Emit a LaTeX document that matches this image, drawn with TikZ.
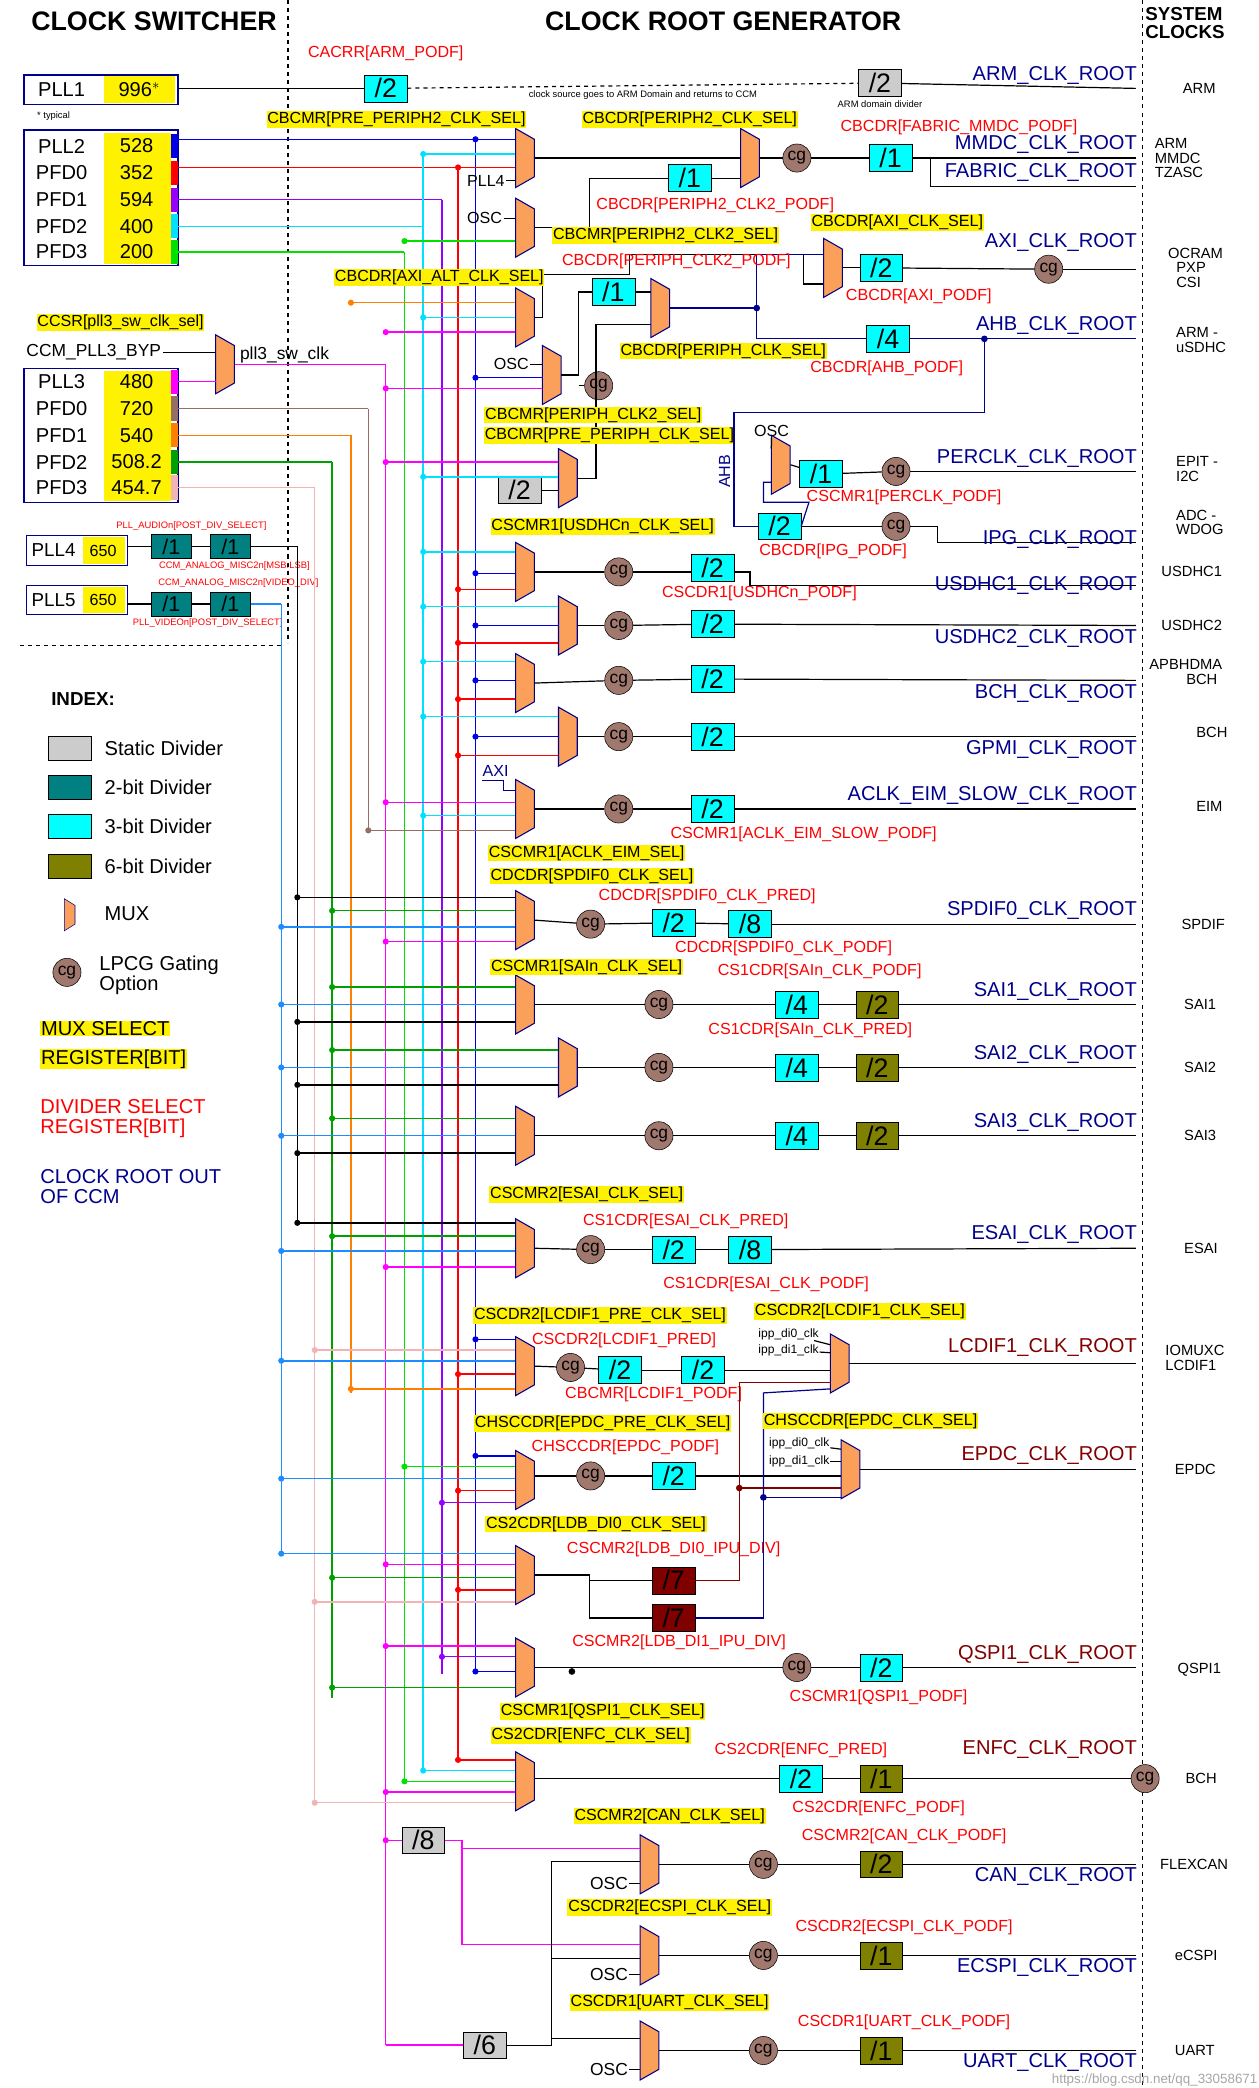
\documentclass[tikz,border=0pt]{standalone}
\usepackage{fontspec}
\setmainfont{Liberation Sans}
\definecolor{navyc}{RGB}{0,0,140}
\definecolor{muxor}{RGB}{250,160,90}
\definecolor{cgc}{RGB}{160,120,110}
\definecolor{teald}{RGB}{0,128,128}
\definecolor{olv}{RGB}{128,128,0}
\definecolor{dred}{RGB}{128,0,0}
\definecolor{cyn}{RGB}{0,255,255}
\definecolor{cA}{RGB}{0,0,230}
\definecolor{cB}{RGB}{255,0,0}
\definecolor{cC}{RGB}{150,0,255}
\definecolor{cD}{RGB}{0,225,255}
\definecolor{cE}{RGB}{0,225,0}
\definecolor{cF}{RGB}{255,0,255}
\definecolor{cG}{RGB}{150,110,100}
\definecolor{cH}{RGB}{255,128,0}
\definecolor{cI}{RGB}{0,160,0}
\definecolor{cJ}{RGB}{240,180,180}
\definecolor{cK}{RGB}{0,0,0}
\definecolor{cL}{RGB}{30,140,255}
\newcommand\fsz[1]{\fontsize{#1}{#1}\selectfont}
\newcommand\mux[3]{\node[inner sep=0,minimum width=14,minimum height=44] (#1) at (#2,#3) {};
 \filldraw[fill=muxor,draw=navyc,line width=0.8] (#2-7,#3-22) -- (#2+7,#3-14) -- (#2+7,#3+14) -- (#2-7,#3+22) -- cycle;}
\newcommand\inp[4]{\draw[#1,line width=1.1] (#2,#3) -- (#4.west |- 0,#3); \fill[#1] (#2,#3) circle (2.3);}
\newcommand\bus[4]{\draw[#1,line width=1.1] (#2,#3) -- (#2,#4);}
\tikzset{
 yl/.style={fill=yellow,inner sep=0.6,font=\fsz{12}},
 rl/.style={text=red,inner sep=0.5,font=\fsz{12}},
 rt/.style={text=navyc,inner sep=1,font=\fsz{15},anchor=south east},
 rtd/.style={text=dred,inner sep=1,font=\fsz{15},anchor=south east},
 sy/.style={font=\fsz{11},anchor=west,align=left,inner sep=0},
 dv/.style={draw,fill=cyn,minimum width=32,minimum height=20,inner sep=0,font=\fsz{20}},
 dvo/.style={dv,fill=olv},
 dvt/.style={dv,fill=teald,minimum width=30,minimum height=18,font=\fsz{16}},
 dvs/.style={dv,fill=black!20},
 dvr/.style={dv,fill=dred},
 cg/.style={circle,draw,fill=cgc,minimum size=21,inner sep=0,font=\fsz{13}},
 sm/.style={font=\fsz{12},inner sep=1},
 tiny/.style={font=\fsz{7},inner sep=0.5},
 ln/.style={line width=0.9},
}
\begin{document}
\begin{tikzpicture}[x=1pt,y=-1pt]
\useasboundingbox (0,0) rectangle (940,1559);
\fill[white] (0,0) rectangle (940,1559);
% titles
\node[font=\fsz{20}\bfseries] at (115,16) {CLOCK SWITCHER};
\node[font=\fsz{20}\bfseries] at (540,16) {CLOCK ROOT GENERATOR};
\node[font=\fsz{14}\bfseries,align=left,anchor=north west,inner sep=0] at (855,5) {SYSTEM\\CLOCKS};
\draw[dashed,line width=1] (215,0) -- (215,480);
\draw[dashed,line width=1] (853,0) -- (853,1559);
\draw[dashed,line width=1] (15,482) -- (212,482);

% ===== PLL1 =====
\draw[navyc,line width=1] (18,56) rectangle (133,78);
\fill[yellow] (78,57) rectangle (131,77);
\node[sm,font=\fsz{15}] at (46,67) {PLL1};
\node[sm,font=\fsz{15}] at (104,67) {996$^{*}$};
\node[tiny] at (40,87) {* typical};
\node[dv] (darm1) at (288,66) {/2};
\node[dvs] (darm2) at (657,62) {/2};
\coordinate (earm) at (848,66);
\draw[ln] (133,66) -- (darm1);
\draw[ln,dashed] (darm1) -- (darm2);
\draw[ln] (darm2) -- (earm);
\node[rl] at (288,40) {CACRR[ARM\_PODF]};
\node[tiny] at (480,71) {clock source goes to ARM Domain and returns to CCM};
\node[tiny] at (657,78) {ARM domain divider};
\node[rt] at (850,64) {ARM\_CLK\_ROOT};
\node[sy] at (883,66) {ARM};

% ===== PLL2 group =====
\draw[navyc,line width=1] (18,97) rectangle (133,198);
\fill[yellow] (78,99) rectangle (128,197);
\foreach \n/\v/\y/\c in {PLL2/528/109/cA,PFD0/352/129/cB,PFD1/594/149/cC,PFD2/400/169/cD,PFD3/200/188/cE}{
 \node[sm,font=\fsz{15}] at (46,\y) {\n};
 \node[sm,font=\fsz{15}] at (102,\y) {\v};
 \fill[\c] (128,\y-9) rectangle (133,\y+9);
}
% ===== PLL3 group =====
\node[yl] at (90,241) {CCSR[pll3\_sw\_clk\_sel]};
\node[sm,font=\fsz{13}] (byp) at (70,263) {CCM\_PLL3\_BYP};
\mux{msw}{168}{272}
\draw[ln] (byp) -- (msw.west |- 0,263);
\node[sm,font=\fsz{13},anchor=west] at (178,265) {pll3\_sw\_clk};
\draw[navyc,line width=1] (18,275) rectangle (133,375);
\fill[yellow] (78,277) rectangle (128,374);
\foreach \n/\v/\y/\c in {PLL3/480/285/cF,PFD0/720/305/cG,PFD1/540/325/cH,PFD2/508.2/345/cI,PFD3/454.7/364/cJ}{
 \node[sm,font=\fsz{15}] at (46,\y) {\n};
 \node[sm,font=\fsz{15}] at (102,\y) {\v};
 \fill[\c] (128,\y-9) rectangle (133,\y+9);
}
\draw[cF,line width=1.1] (133,285) -- (161,285);
% ===== PLL4/5 =====
\draw[navyc,line width=1] (20,400) rectangle (95,422);
\fill[yellow] (62,401) rectangle (93,421);
\node[sm,font=\fsz{14}] at (40,411) {PLL4};
\node[sm] at (77,411) {650};
\node[dvt] (p4a) at (128,408) {/1};
\node[dvt] (p4b) at (172,408) {/1};
\draw[ln] (95,408) -- (p4a); \draw[ln] (p4a) -- (p4b); \draw[ln] (p4b) -- (222,408);
\node[tiny,text=red] at (143,393) {PLL\_AUDIOn[POST\_DIV\_SELECT]};
\node[tiny,text=red] at (175,423) {CCM\_ANALOG\_MISC2n[MSB:LSB]};
\draw[navyc,line width=1] (20,437) rectangle (95,459);
\fill[yellow] (62,438) rectangle (93,458);
\node[sm,font=\fsz{14}] at (40,448) {PLL5};
\node[sm] at (77,448) {650};
\node[dvt] (p5a) at (128,451) {/1};
\node[dvt] (p5b) at (172,451) {/1};
\draw[ln] (95,451) -- (p5a); \draw[ln] (p5a) -- (p5b); \draw[cL,line width=1.1] (p5b) -- (210,451);
\node[tiny,text=red] at (178,435) {CCM\_ANALOG\_MISC2n[VIDEO\_DIV]};
\node[tiny,text=red] at (155,465) {PLL\_VIDEOn[POST\_DIV\_SELECT]};

% ===== INDEX =====
\node[font=\fsz{14}\bfseries] at (62,522) {INDEX:};
\foreach \y/\c/\t in {559/black!20/Static Divider,588/teald/2-bit Divider,617/cyn/3-bit Divider,647/olv/6-bit Divider}{
 \filldraw[fill=\c] (36,\y-9) rectangle (68,\y+9);
 \node[sm,font=\fsz{15},anchor=west] at (77,\y) {\t};}
\filldraw[fill=muxor,draw=navyc] (48,671) -- (56,676) -- (56,690) -- (48,695) -- cycle;
\node[sm,font=\fsz{15},anchor=west] at (77,682) {MUX};
\node[cg] at (50,726) {cg};
\node[sm,font=\fsz{15},anchor=west,align=left] at (73,728) {LPCG Gating\\Option};
\node[fill=yellow,inner sep=0.5,font=\fsz{15},anchor=west] at (30,768) {MUX SELECT};
\node[fill=yellow,inner sep=0.5,font=\fsz{15},anchor=west] at (30,791) {REGISTER[BIT]};
\node[text=red,font=\fsz{15},anchor=west,align=left,inner sep=0] at (30,835) {DIVIDER SELECT\\REGISTER[BIT]};
\node[text=navyc,font=\fsz{15},anchor=west,align=left,inner sep=0] at (30,886) {CLOCK ROOT OUT\\OF CCM};

% ===== buses =====
\draw[cA,line width=1.1] (133,104) -- (355,104);
\draw[cB,line width=1.1] (133,125) -- (342,125);
\draw[cC,line width=1.1] (133,149) -- (330,149);
\draw[cD,line width=1.1] (133,169) -- (316,169);
\draw[cE,line width=1.1] (133,188) -- (302,188);
\draw[cF,line width=1.1] (msw.east) -- (288,272);
\draw[cG,line width=1.1] (133,305) -- (275,305);
\draw[cH,line width=1.1] (133,325) -- (262,325);
\draw[cI,line width=1.1] (133,345) -- (248,345);
\draw[cJ,line width=1.1] (133,364) -- (235,364);
\bus{cA}{355}{104}{1250}
\bus{cB}{342}{125}{1314}
\bus{cC}{330}{149}{1250}
\bus{cD}{316}{115}{1322}
\bus{cE}{302}{188}{1330}
\bus{cF}{288}{272}{1527}
\bus{cG}{275}{305}{620}
\bus{cH}{262}{325}{1040}
\bus{cI}{248}{345}{1268}
\bus{cJ}{235}{364}{1346}
\bus{cK}{222}{408}{913}
\bus{cL}{210}{451}{1160}

% ===== MMDC / FABRIC =====
\mux{m1a}{392}{118}
\mux{m1b}{560}{118}
\node[cg] (cg1) at (595,118) {cg};
\node[dv] (d1) at (665,118) {/1};
\node[dv] (d1b) at (515,133) {/1};
\coordinate (e1) at (848,118);
\inp{cA}{355}{104}{m1a} \inp{cB}{342}{125}{m1a}
\draw[cD,line width=1.1] (316,115) -- (m1a.west |- 0,115); \fill[cD] (316,115) circle (2.3);
\node[sm,anchor=east] (pll4t) at (378,135) {PLL4};
\draw[ln] (pll4t) -- (m1a.west |- 0,135);
\draw[ln] (m1a.east) -- (m1b.west);
\draw[ln] (m1b.east) -- (cg1); \draw[ln] (cg1) -- (d1); \draw[ln] (d1) -- (e1);
\draw[ln] (695,118) |- (848,139);
\draw[ln] (d1b) -- (m1b.west |- 0,133);
\node[yl] at (296,89) {CBCMR[PRE\_PERIPH2\_CLK\_SEL]};
\node[yl] at (515,89) {CBCDR[PERIPH2\_CLK\_SEL]};
\node[rl] at (716,95) {CBCDR[FABRIC\_MMDC\_PODF]};
\node[rt] at (850,116) {MMDC\_CLK\_ROOT};
\node[rt] at (850,137) {FABRIC\_CLK\_ROOT};
\node[sy] at (862,118) {ARM\\MMDC\\TZASC};
% periph2 clk2
\mux{mp2}{392}{170}
\node[sm,anchor=east] (osc1) at (376,163) {OSC};
\draw[ln] (osc1) -- (mp2.west |- 0,163);
\inp{cE}{302}{180}{mp2}
\draw[ln] (mp2.east) -- (440,170) |- (d1b);
\node[rl] at (534,153) {CBCDR[PERIPH2\_CLK2\_PODF]};
\node[yl] at (497,176) {CBCMR[PERIPH2\_CLK2\_SEL]};

% ===== AXI / AHB / periph =====
\mux{malt}{392}{237}
\mux{mpre}{412}{280}
\node[cg] (cgp) at (447,288) {cg};
\mux{mpc2}{424}{357}
\node[dvs] (dgp) at (388,366) {/2};
\node[dv] (dpc2) at (458,218) {/1};
\mux{mper}{493}{230}
\mux{maxi}{622}{200}
\node[dv] (daxi) at (658,200) {/2};
\node[cg] (cgaxi) at (783,201) {cg};
\coordinate (eaxi) at (848,201);
\node[dv] (dahb) at (663,253) {/4};
\coordinate (eahb) at (848,253);
\inp{cH}{262}{226}{malt} \inp{cD}{316}{237}{malt} \inp{cF}{288}{248}{malt}
\node[sm,anchor=east] (osc2) at (396,272) {OSC};
\draw[ln] (osc2) -- (mpre.west |- 0,272);
\inp{cF}{288}{290}{mpre} \inp{cA}{355}{282}{mpre}
\inp{cF}{288}{345}{mpc2} \inp{cD}{316}{356}{mpc2}
\draw[ln] (dgp) -- (mpc2.west |- 0,366);
\draw[ln] (mpre.east) -- (432,280) -- (432,218) -- (dpc2);
\draw[ln] (432,288) -- (cgp);
\draw[ln] (dpc2) -- (mper.west |- 0,218);
\draw[ln] (mpc2.east) -- (445,357) -- (445,242) -- (mper.west |- 0,242);
\draw[ln] (malt.east) -- (405,237) -- (405,205) -- (470,205) -- (470,190) -- (600,190) -- (600,212) -- (maxi.west |- 0,212);
\draw[navyc,ln] (mper.east) -- (565,230);
\fill[navyc] (565,230) circle (2.5);
\draw[navyc,ln] (565,230) |- (maxi.west |- 0,190);
\draw[navyc,ln] (565,230) |- (dahb);
\draw[ln] (maxi.east) -- (daxi); \draw[ln] (daxi) -- (cgaxi); \draw[ln] (cgaxi) -- (eaxi);
\draw[navyc,ln] (dahb) -- (eahb);
\fill[navyc] (735,253) circle (2.5);
\node[yl] at (670,166) {CBCDR[AXI\_CLK\_SEL]};
\node[rl] at (505,195) {CBCDR[PERIPH\_CLK2\_PODF]};
\node[yl] at (328,207) {CBCDR[AXI\_ALT\_CLK\_SEL]};
\node[rl] at (686,221) {CBCDR[AXI\_PODF]};
\node[yl] at (540,262) {CBCDR[PERIPH\_CLK\_SEL]};
\node[rl] at (662,275) {CBCDR[AHB\_PODF]};
\node[yl] at (443,310) {CBCMR[PERIPH\_CLK2\_SEL]};
\node[yl] at (455,325) {CBCMR[PRE\_PERIPH\_CLK\_SEL]};
\node[rt] at (850,189) {AXI\_CLK\_ROOT};
\node[rt] at (850,251) {AHB\_CLK\_ROOT};
\node[sy] at (872,200) {OCRAM\\\ \ PXP\\\ \ CSI};
\node[sy] at (878,254) {ARM -\\uSDHC};

% ===== PERCLK / IPG =====
\mux{mperc}{583}{347}
\node[dv] (dperc) at (613,354) {/1};
\node[cg] (cgperc) at (669,352) {cg};
\coordinate (eperc) at (848,352);
\node[dv] (dipg) at (582,393) {/2};
\node[cg] (cgipg) at (669,393) {cg};
\coordinate (eipg) at (848,405);
\draw[navyc,ln] (735,253) -- (735,308) -- (548,308) -- (548,393) -- (dipg);
\node[sm,anchor=south] (osc3) at (576,327) {OSC};
\draw[ln] (osc3.south) -- (576,332) -- (mperc.west |- 0,335);
\draw[navyc,ln] (dipg.east) -- (604,375) -- (570,375) |- (mperc.west |- 0,360);
\draw[ln] (mperc.east) -- (dperc); \draw[ln] (dperc) -- (cgperc); \draw[ln] (cgperc) -- (eperc);
\draw[ln] (dipg) -- (cgipg); \draw[ln] (cgipg) -- (700,393) |- (eipg);
\node[text=navyc,rotate=90,font=\fsz{12},inner sep=0] at (541,352) {AHB};
\node[rl] at (675,371) {CSCMR1[PERCLK\_PODF]};
\node[rl] at (622,412) {CBCDR[IPG\_PODF]};
\node[rt] at (850,350) {PERCLK\_CLK\_ROOT};
\node[rt] at (850,411) {IPG\_CLK\_ROOT};
\node[sy] at (878,350) {EPIT -\\I2C};
\node[sy] at (878,390) {ADC -\\WDOG};

% USDHC1
\mux{mu1}{392}{427}
\node[cg] (cgu1) at (462,427) {cg};
\node[dv] (du1) at (532,424) {/2};
\draw[ln] (mu1.east) -- (cgu1); \draw[ln] (cgu1) -- (du1.west|-0,427); \draw[ln] (du1.east|-0,427) -- (560,427) |- (848,437);
\inp{cD}{316}{412}{mu1} \inp{cA}{355}{428}{mu1} \inp{cB}{342}{440}{mu1}
\node[yl] at (450,393) {CSCMR1[USDHCn\_CLK\_SEL]};
\node[rl] at (567,443) {CSCDR1[USDHCn\_PODF]};
\node[rt] at (850,445) {USDHC1\_CLK\_ROOT};
\node[sy] at (867,427) {USDHC1};
% USDHC2
\mux{mu2}{424}{467}
\node[cg] (cgu2) at (462,467) {cg};
\node[dv] (du2) at (532,466) {/2};
\coordinate (eu2) at (848,467);
\draw[ln] (mu2.east) -- (cgu2); \draw[ln] (cgu2) -- (du2); \draw[ln] (du2) -- (eu2);
\inp{cD}{316}{453}{mu2} \inp{cA}{355}{467}{mu2} \inp{cB}{342}{480}{mu2}
\node[rt,anchor=north east] at (850,469) {USDHC2\_CLK\_ROOT};
\node[sy] at (867,467) {USDHC2};
% BCH
\mux{mb}{392}{510}
\node[cg] (cgb) at (462,508) {cg};
\node[dv] (db) at (532,507) {/2};
\coordinate (eb) at (848,508);
\draw[ln] (mb.east) -- (cgb); \draw[ln] (cgb) -- (db); \draw[ln] (db) -- (eb);
\inp{cD}{316}{494}{mb} \inp{cA}{355}{508}{mb} \inp{cB}{342}{522}{mb}
\node[rt,anchor=north east] at (850,510) {BCH\_CLK\_ROOT};
\node[sy] at (858,502) {APBHDMA\\\ \ \ \ \ \ \ \ \ BCH};
% GPMI
\mux{mg}{424}{550}
\node[cg] (cgg) at (462,550) {cg};
\node[dv] (dg) at (532,550) {/2};
\coordinate (eg) at (848,550);
\draw[ln] (mg.east) -- (cgg); \draw[ln] (cgg) -- (dg); \draw[ln] (dg) -- (eg);
\inp{cD}{316}{535}{mg} \inp{cA}{355}{550}{mg} \inp{cB}{342}{564}{mg}
\node[rt,anchor=north east] at (850,552) {GPMI\_CLK\_ROOT};
\node[sy] at (893,547) {BCH};
% EIM
\mux{me}{392}{604}
\node[cg] (cge) at (462,604) {cg};
\node[dv] (de) at (532,604) {/2};
\coordinate (ee) at (848,604);
\draw[ln] (me.east) -- (cge); \draw[ln] (cge) -- (de); \draw[ln] (de) -- (ee);
\draw[navyc,ln] (360,583) -- (376,583) -- (376,590) -- (me.west |- 0,590);
\node[text=navyc,font=\fsz{12},inner sep=0] at (370,576) {AXI};
\inp{cF}{288}{599}{me} \inp{cD}{316}{609}{me} \inp{cG}{275}{620}{me}
\node[yl] at (438,637) {CSCMR1[ACLK\_EIM\_SEL]};
\node[rl] at (600,623) {CSCMR1[ACLK\_EIM\_SLOW\_PODF]};
\node[rt] at (850,602) {ACLK\_EIM\_SLOW\_CLK\_ROOT};
\node[sy] at (893,602) {EIM};
% SPDIF
\mux{ms}{392}{687}
\node[cg] (cgs) at (441,690) {cg};
\node[dv] (ds1) at (503,689) {/2};
\node[dv] (ds2) at (560,690) {/8};
\coordinate (es) at (848,690);
\draw[ln] (ms.east) -- (cgs); \draw[ln] (cgs) -- (ds1); \draw[ln] (ds1) -- (ds2); \draw[ln] (ds2) -- (es);
\inp{cK}{222}{670}{ms} \inp{cI}{248}{680}{ms} \inp{cL}{210}{692}{ms} \inp{cF}{288}{703}{ms}
\node[yl] at (442,654) {CDCDR[SPDIF0\_CLK\_SEL]};
\node[rl] at (528,669) {CDCDR[SPDIF0\_CLK\_PRED]};
\node[rl] at (585,708) {CDCDR[SPDIF0\_CLK\_PODF]};
\node[rt] at (850,688) {SPDIF0\_CLK\_ROOT};
\node[sy] at (882,690) {SPDIF};
% SAI1..3
\foreach \nm/\mx/\y/\lab/\sl in {sa/392/750/SAI1\_CLK\_ROOT/SAI1,sb/424/797/SAI2\_CLK\_ROOT/SAI2,sc/392/848/SAI3\_CLK\_ROOT/SAI3}{
 \mux{m\nm}{\mx}{\y}
 \node[cg] (cg\nm) at (492,\y) {cg};
 \node[dv] (d\nm) at (595,\y) {/4};
 \node[dvo] (o\nm) at (655,\y) {/2};
 \coordinate (e\nm) at (848,\y);
 \draw[ln] (m\nm.east) -- (cg\nm); \draw[ln] (cg\nm) -- (d\nm); \draw[ln] (d\nm) -- (o\nm); \draw[ln] (o\nm) -- (e\nm);
 \inp{cI}{248}{\y-13}{m\nm} \inp{cL}{210}{\y}{m\nm} \inp{cK}{222}{\y+13}{m\nm}
 \node[rt] at (850,\y-2) {\lab};
 \node[sy] at (884,\y) {\sl};
}
\node[yl] at (438,722) {CSCMR1[SAIn\_CLK\_SEL]};
\node[rl] at (612,725) {CS1CDR[SAIn\_CLK\_PODF]};
\node[rl] at (605,769) {CS1CDR[SAIn\_CLK\_PRED]};
% ESAI
\mux{mes}{392}{932}
\node[cg] (cges) at (441,933) {cg};
\node[dv] (des1) at (503,933) {/2};
\node[dv] (des2) at (560,933) {/8};
\coordinate (ees) at (848,932);
\draw[ln] (mes.east) -- (cges); \draw[ln] (cges) -- (des1); \draw[ln] (des1) -- (des2); \draw[ln] (des2) -- (ees);
\inp{cK}{222}{913}{mes} \inp{cI}{248}{923}{mes} \inp{cL}{210}{934}{mes} \inp{cF}{288}{946}{mes}
\node[yl] at (438,892) {CSCMR2[ESAI\_CLK\_SEL]};
\node[rl] at (512,912) {CS1CDR[ESAI\_CLK\_PRED]};
\node[rl] at (572,959) {CS1CDR[ESAI\_CLK\_PODF]};
\node[rt] at (850,930) {ESAI\_CLK\_ROOT};
\node[sy] at (884,932) {ESAI};

% LDB
\mux{mldb}{392}{1176}
\node[dvr] (dl0) at (503,1180) {/7};
\node[dvr] (dl1) at (503,1208) {/7};
\inp{cL}{210}{1160}{mldb} \inp{cF}{288}{1168}{mldb} \inp{cI}{248}{1178}{mldb} \inp{cB}{342}{1187}{mldb} \inp{cJ}{235}{1196}{mldb}
\draw[ln] (mldb.east) -- (440,1176) -- (440,1180) -- (dl0);
\draw[ln] (440,1180) |- (dl1);
\node[yl] at (445,1138) {CS2CDR[LDB\_DI0\_CLK\_SEL]};
\node[rl] at (503,1157) {CSCMR2[LDB\_DI0\_IPU\_DIV]};
\node[rl] at (507,1226) {CSCMR2[LDB\_DI1\_IPU\_DIV]};
% LCDIF1
\mux{ml1}{392}{1020}
\node[cg] (cgl1) at (426,1021) {cg};
\node[dv] (dl1a) at (463,1023) {/2};
\node[dv] (dl1b) at (525,1023) {/2};
\mux{ml2}{627}{1018}
\coordinate (el) at (848,1018);
\draw[ln] (ml1.east) -- (cgl1); \draw[ln] (cgl1) -- (dl1a); \draw[ln] (dl1a) -- (dl1b); \draw[ln] (dl1b) -- (ml2.west |- 0,1023);
\draw[ln] (ml2.east) -- (el);
\inp{cA}{355}{1000}{ml1} \inp{cJ}{235}{1008}{ml1} \inp{cL}{210}{1016}{ml1} \inp{cB}{342}{1026}{ml1} \inp{cH}{262}{1037}{ml1}
\node[tiny,font=\fsz{9},anchor=east] (ip0) at (612,996) {ipp\_di0\_clk};
\node[tiny,font=\fsz{9},anchor=east] (ip1) at (612,1008) {ipp\_di1\_clk};
\draw[ln] (ip0) -- (ml2.west |- 0,1004); \draw[ln] (ip1) -- (ml2.west |- 0,1010);
\node[yl] at (448,982) {CSCDR2[LCDIF1\_PRE\_CLK\_SEL]};
\node[yl] at (642,979) {CSCDR2[LCDIF1\_CLK\_SEL]};
\node[rl] at (466,1001) {CSCDR2[LCDIF1\_PRED]};
\node[rl] at (488,1041) {CBCMR[LCDIF1\_PODF]};
\node[rtd] at (850,1014) {LCDIF1\_CLK\_ROOT};
\node[sy] at (870,1014) {IOMUXC\\LCDIF1};
% EPDC
\mux{mep1}{392}{1105}
\node[cg] (cgep) at (441,1102) {cg};
\node[dv] (dep) at (503,1102) {/2};
\mux{mep2}{635}{1097}
\coordinate (eep) at (848,1097);
\draw[ln] (mep1.east|-0,1102) -- (cgep); \draw[ln] (cgep) -- (dep); \draw[ln] (dep) -- (mep2.west |- 0,1102);
\draw[ln] (mep2.east) -- (eep);
\inp{cA}{355}{1087}{mep1} \inp{cE}{302}{1095}{mep1} \inp{cL}{210}{1104}{mep1} \inp{cB}{342}{1113}{mep1} \inp{cC}{330}{1122}{mep1}
\node[tiny,font=\fsz{9},anchor=east] (ip2) at (620,1078) {ipp\_di0\_clk};
\node[tiny,font=\fsz{9},anchor=east] (ip3) at (620,1091) {ipp\_di1\_clk};
\draw[ln] (ip2) -- (mep2.west |- 0,1082); \draw[ln] (ip3) -- (mep2.west |- 0,1091);
\draw[dred,ln] (dl0) -- (552,1180) -- (552,1032) -- (ml2.west |- 0,1032);
\fill[dred] (552,1111) circle (2.5);
\draw[dred,ln] (552,1111) -- (mep2.west |- 0,1111);
\draw[navyc,ln] (dl1) -- (570,1208) -- (570,1118) -- (mep2.west |- 0,1118);
\fill[navyc] (570,1118) circle (2.5);
\draw[navyc,ln] (570,1118) -- (570,1040) -- (ml2.west |- 0,1037);
\node[yl] at (450,1063) {CHSCCDR[EPDC\_PRE\_CLK\_SEL]};
\node[yl] at (650,1061) {CHSCCDR[EPDC\_CLK\_SEL]};
\node[rl] at (467,1081) {CHSCCDR[EPDC\_PODF]};
\node[rtd] at (850,1095) {EPDC\_CLK\_ROOT};
\node[sy] at (877,1097) {EPDC};
% QSPI1
\mux{mq}{392}{1245}
\node[cg] (cgq) at (595,1245) {cg};
\node[dv] (dq) at (658,1245) {/2};
\coordinate (eq) at (848,1245);
\draw[ln] (mq.east) -- (cgq); \draw[ln] (cgq) -- (dq); \draw[ln] (dq) -- (eq);
\fill (427,1248) circle (2.5);
\inp{cF}{288}{1229}{mq} \inp{cC}{330}{1237}{mq} \inp{cA}{355}{1248}{mq} \inp{cI}{248}{1260}{mq}
\node[rl] at (656,1267) {CSCMR1[QSPI1\_PODF]};
\node[yl] at (450,1278) {CSCMR1[QSPI1\_CLK\_SEL]};
\node[rtd] at (850,1243) {QSPI1\_CLK\_ROOT};
\node[sy] at (879,1247) {QSPI1};
% ENFC
\mux{mn}{392}{1330}
\node[dv] (dn) at (598,1328) {/2};
\node[dvo] (on) at (658,1328) {/1};
\node[cg] (cgn) at (855,1328) {cg};
\draw[ln] (mn.east|-0,1328) -- (dn); \draw[ln] (dn) -- (on); \draw[ln] (on) -- (cgn);
\inp{cB}{342}{1314}{mn} \inp{cD}{316}{1322}{mn} \inp{cE}{302}{1330}{mn} \inp{cF}{288}{1338}{mn} \inp{cJ}{235}{1346}{mn}
\node[yl] at (441,1296) {CS2CDR[ENFC\_CLK\_SEL]};
\node[rl] at (598,1307) {CS2CDR[ENFC\_PRED]};
\node[rl] at (656,1350) {CS2CDR[ENFC\_PODF]};
\node[rtd] at (850,1314) {ENFC\_CLK\_ROOT};
\node[sy] at (885,1328) {BCH};
% CAN / ECSPI / UART
\node[dvs] (d8) at (316,1374) {/8};
\node[dvs] (d6) at (362,1527) {/6};
\draw[cF,line width=1.1] (288,1374) -- (d8);
\draw[cF,line width=1.1] (288,1527) -- (d6);
\fill[cF] (288,1374) circle (2.3);
\foreach \nm/\y/\dl/\sel/\pod/\lab/\sl/\sx in {can/1392/{/2}/CSCMR2[CAN\_CLK\_SEL]/CSCMR2[CAN\_CLK\_PODF]/CAN\_CLK\_ROOT/FLEXCAN/866,ec/1460/{/1}/CSCDR2[ECSPI\_CLK\_SEL]/CSCDR2[ECSPI\_CLK\_PODF]/ECSPI\_CLK\_ROOT/eCSPI/877,ua/1531/{/1}/CSCDR1[UART\_CLK\_SEL]/CSCDR1[UART\_CLK\_PODF]/UART\_CLK\_ROOT/UART/877}{
 \mux{m\nm}{485}{\y}
 \node[cg] (cg\nm) at (570,\y) {cg};
 \node[dvo] (o\nm) at (658,\y) {\dl};
 \coordinate (e\nm) at (848,\y);
 \draw[ln] (m\nm.east) -- (cg\nm); \draw[ln] (cg\nm) -- (o\nm); \draw[ln] (o\nm) -- (e\nm);
 \node[sm,font=\fsz{13},anchor=east] (osc\nm) at (470,\y+14) {OSC};
 \draw[ln] (osc\nm) -- (m\nm.west |- 0,\y+14);
 \node[yl] at (500,\y-36) {\sel};
 \node[rl] at (675,\y-21) {\pod};
 \node[rt,anchor=north east] at (850,\y+1) {\lab};
 \node[sy] at (\sx,\y) {\sl};
}
\draw[cF,line width=1.1] (d8) -- (345,1374) -- (345,1452) -- (mec.west |- 0,1452);
\draw[cF,line width=1.1] (345,1380) -- (mcan.west |- 0,1380);
\draw[ln] (d6) -- (412,1527) -- (412,1390) -- (mcan.west |- 0,1390);
\draw[ln] (412,1462) -- (mec.west |- 0,1462);
\draw[ln] (412,1522) -- (mua.west |- 0,1522);
% watermark
\node[text=black!35,font=\fsz{10},anchor=south east,inner sep=1] at (940,1559) {https://blog.csdn.net/qq\_33058671};
\end{tikzpicture}
\end{document}
